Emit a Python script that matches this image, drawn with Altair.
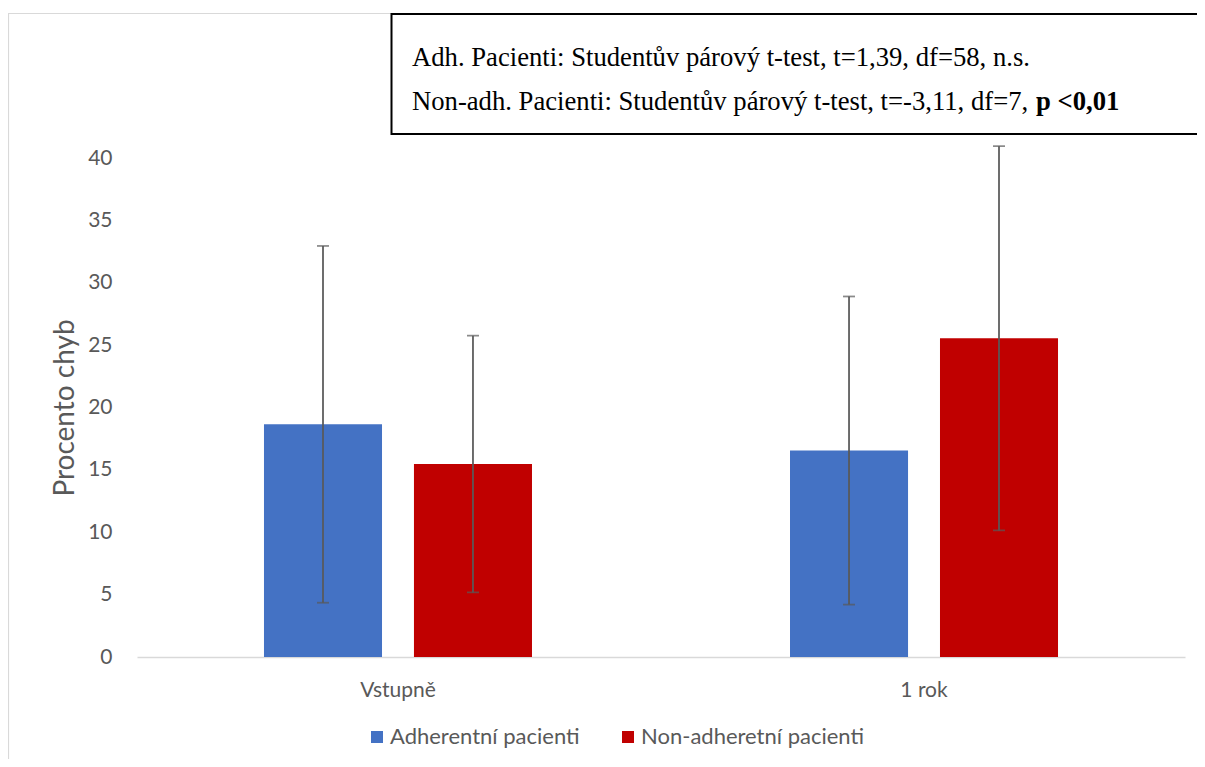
import altair as alt
import pandas as pd

# ---- data ----
categories = ["Vstupně", "1 rok"]
groups = ["Adherentní pacienti", "Non-adheretní pacienti"]
adh_mean = [18.65, 16.55]
adh_sd = [14.3, 12.35]
non_mean = [15.47, 25.55]
non_sd = [10.29, 15.4]
colors = ["#4472C4", "#C00000"]
y_ticks = [0, 5, 10, 15, 20, 25, 30, 35, 40]
note_line1 = "Adh. Pacienti: Studentův párový t-test, t=1,39, df=58, n.s."
note_line2 = "Non-adh. Pacienti: Studentův párový t-test, t=-3,11, df=7, "
note_bold = "p <0,01"

rows = []
for i, c in enumerate(categories):
    rows.append({"cat": c, "grp": groups[0], "m": adh_mean[i], "sd": adh_sd[i]})
    rows.append({"cat": c, "grp": groups[1], "m": non_mean[i], "sd": non_sd[i]})
df = pd.DataFrame(rows)
df["lo"] = df["m"] - df["sd"]
df["hi"] = df["m"] + df["sd"]

SANS = "Lato"
GREY = "#595959"

x_enc = alt.X(
    "cat:N", sort=categories,
    scale=alt.Scale(paddingInner=0.4905, paddingOuter=0.2414),
    axis=alt.Axis(title=None, labelAngle=0, ticks=False, domainColor="#D9D9D9",
                  domainWidth=1.5, labelFont=SANS, labelFontSize=21,
                  labelColor=GREY, labelPadding=22),
)
xo_enc = alt.XOffset("grp:N", sort=groups,
                     scale=alt.Scale(paddingInner=0.213, paddingOuter=0))
y_scale = alt.Scale(domain=[0, 40], nice=False)

base = alt.Chart(df)

bars = base.mark_bar().encode(
    x=x_enc,
    xOffset=xo_enc,
    y=alt.Y("m:Q", scale=y_scale,
            axis=alt.Axis(values=y_ticks, grid=False, domain=False, ticks=False,
                          labelFont=SANS, labelFontSize=21, labelColor=GREY,
                          labelPadding=25, title="Procento chyb", titleFont=SANS,
                          titleFontSize=28, titleFontWeight="normal", titleColor=GREY,
                          titleX=-72, titleY=249.5, titleAngle=270,
                          titleAlign="center", titleBaseline="middle")),
    color=alt.Color("grp:N", sort=groups,
                    scale=alt.Scale(domain=groups, range=colors),
                    legend=alt.Legend(orient="none", legendX=229, legendY=568,
                                      direction="horizontal", title=None,
                                      symbolType="square", symbolSize=144,
                                      symbolStrokeWidth=0, labelFont=SANS,
                                      labelFontSize=22, labelColor=GREY,
                                      labelLimit=0,
                                      labelOffset=2, columnPadding=37, padding=0)),
)

rules = base.mark_rule(color=GREY, strokeWidth=1.75).encode(
    x=x_enc, xOffset=xo_enc, y=alt.Y("lo:Q", scale=y_scale), y2="hi:Q"
)
cap_lo = base.mark_tick(color=GREY, thickness=1.75, size=12).encode(
    x=x_enc, xOffset=xo_enc, y=alt.Y("lo:Q", scale=y_scale)
)
cap_hi = base.mark_tick(color=GREY, thickness=1.75, size=12).encode(
    x=x_enc, xOffset=xo_enc, y=alt.Y("hi:Q", scale=y_scale)
)

one = pd.DataFrame({"t": [note_line1], "u": [note_line2], "b": [note_bold]})
note_src = alt.Chart(one)

chart_border = note_src.mark_rect(fill="transparent", stroke="#D9D9D9",
                                  strokeWidth=1.2).encode(
    x=alt.value(-128.5), x2=alt.value(1100), y=alt.value(-144.5), y2=alt.value(700)
)
note_box = note_src.mark_rect(fill="white", stroke="black", strokeWidth=2).encode(
    x=alt.value(254.5), x2=alt.value(1100), y=alt.value(-144), y2=alt.value(-24)
)
t1 = note_src.mark_text(font="Liberation Serif", fontSize=26.67, align="left",
                        baseline="alphabetic", color="black").encode(
    x=alt.value(275), y=alt.value(-92), text="t:N")
t2 = note_src.mark_text(font="Liberation Serif", fontSize=26.67, align="left",
                        baseline="alphabetic", color="black").encode(
    x=alt.value(275), y=alt.value(-48), text="u:N")
t3 = note_src.mark_text(font="Liberation Serif", fontSize=26.67, align="left",
                        baseline="alphabetic", color="black",
                        fontWeight="bold").encode(
    x=alt.value(899), y=alt.value(-48), text="b:N")

chart = alt.layer(chart_border, bars, rules, cap_lo, cap_hi, note_box, t1, t2, t3).properties(
    width=1048, height=499,
    background="white",
    autosize=alt.AutoSizeParams(type="none"),
    padding={"left": 129, "top": 150, "right": 12, "bottom": 102},
).configure_view(strokeWidth=0, stroke="transparent")

chart.save("out.html", embed_options={"renderer": "svg", "actions": False})
